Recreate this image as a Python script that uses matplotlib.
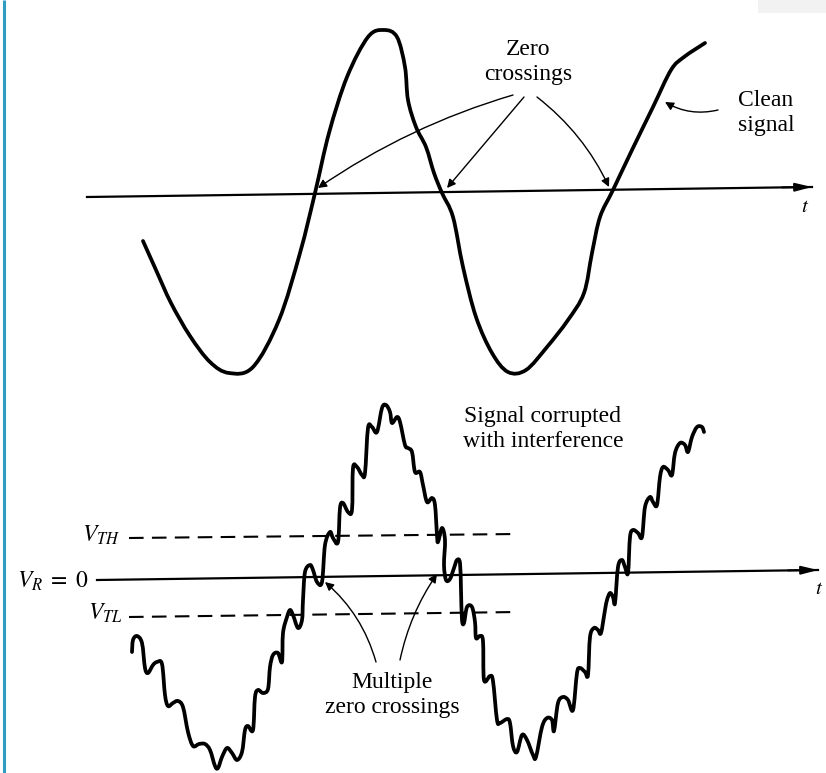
import matplotlib
matplotlib.use("Agg")
import matplotlib.pyplot as plt
from matplotlib.patches import FancyArrowPatch, Rectangle, PathPatch
from matplotlib.path import Path

plt.rcParams['font.family'] = ['Liberation Serif', 'DejaVu Serif']
plt.rcParams['mathtext.fontset'] = 'stix'

# ---- data (pixel-like coordinates, y downwards) ----
clean_x = [143, 156, 171, 190, 210, 229, 253, 279, 300, 315, 329, 347, 368, 384, 397, 405, 408, 416,
           426, 434, 442, 453, 463, 476, 492, 508, 526, 547, 568, 584, 592, 600, 613, 632,
           653, 671, 684, 705]
clean_y = [241, 270, 303, 336, 362, 373, 367, 320, 253, 193, 133, 77, 37, 30, 37, 67, 100, 127,
           147, 173, 193, 217, 267, 317, 353, 372, 370, 347, 320, 293, 253, 217, 190, 150,
           107, 70, 57, 43]

noisy_x = [132, 133, 137, 142, 145, 148, 153, 157, 162, 165, 168, 173, 178, 183, 188, 193,
           199, 205, 210, 215, 218, 222, 227, 232, 237, 242, 245, 248, 253, 255, 258, 263,
           268, 270, 273, 278, 282, 283, 287, 290, 293, 298, 302, 303, 305, 310, 313, 317,
           322, 325, 330, 333, 338, 340, 343, 348, 352, 353, 357, 362, 365, 368, 372, 377,
           382, 386, 390, 392, 397, 400, 405, 408, 412, 415, 420, 423, 427, 432, 435, 437,
           438, 442, 445, 444, 446, 450, 454, 457, 460, 461, 462, 464, 467, 472, 475, 476,
           480, 483, 484, 490, 493, 497, 500, 507, 510, 513, 517, 522, 527, 533, 536, 542,
           547, 552, 554, 558, 563, 568, 573, 577, 580, 585, 588, 590, 594, 598, 601, 605,
           607, 610, 613, 615, 618, 622, 625, 628, 630, 633, 638, 642, 645, 650, 653, 657,
           660, 663, 668, 672, 675, 680, 685, 688, 692, 697, 702, 704]
noisy_y = [652, 640, 636, 643, 668, 673, 665, 662, 664, 695, 706, 703, 701, 707, 732, 746,
           744, 744, 750, 766, 768, 757, 748, 753, 760, 752, 730, 726, 730, 697, 690, 693,
           689, 667, 655, 653, 662, 633, 617, 610, 615, 628, 620, 600, 572, 565, 570, 582,
           582, 545, 532, 538, 542, 508, 503, 512, 510, 468, 467, 475, 473, 428, 427, 432,
           408, 405, 412, 423, 417, 422, 445, 448, 452, 472, 472, 485, 502, 498, 505, 535,
           542, 528, 540, 565, 580, 579, 568, 560, 563, 590, 620, 623, 607, 607, 622, 638,
           636, 641, 680, 676, 681, 720, 723, 719, 723, 746, 752, 735, 740, 755, 757, 727,
           718, 720, 731, 703, 697, 700, 710, 673, 668, 672, 675, 637, 628, 630, 633, 610,
           600, 593, 597, 603, 567, 560, 567, 573, 537, 530, 533, 537, 507, 497, 502, 505,
           477, 467, 470, 475, 453, 443, 445, 452, 437, 427, 427, 432]

# axes (start, end) and threshold lines
top_axis_x = [87, 812]
top_axis_y = [197, 187]
bot_axis_x = [97, 818]
bot_axis_y = [580, 570]
vth_x = [129, 518]
vth_y = [538, 534]
vtl_x = [129, 518]
vtl_y = [617, 612]

# ---- figure ----
fig = plt.figure(figsize=(8.26, 7.73), dpi=100)
ax = fig.add_axes([0, 0, 1, 1])
ax.set_xlim(0, 826)
ax.set_ylim(773, 0)
ax.axis('off')

# left blue border and faint top-right patch
ax.plot([4, 4], [0, 773], color='#2f9cc4', lw=2.2, solid_capstyle='butt')
ax.add_patch(Rectangle((758, 0), 68, 13, color='#f2f2f2', lw=0))


def smooth_path(xs, ys):
    """Bezier path through the given points (Catmull-Rom style tangents)."""
    pts = list(zip(xs, ys))
    verts = [pts[0]]
    codes = [Path.MOVETO]
    n = len(pts)
    for i in range(n - 1):
        p0 = pts[i - 1] if i > 0 else pts[i]
        p1 = pts[i]
        p2 = pts[i + 1]
        p3 = pts[i + 2] if i + 2 < n else pts[i + 1]
        c1 = (p1[0] + (p2[0] - p0[0]) / 6.0, p1[1] + (p2[1] - p0[1]) / 6.0)
        c2 = (p2[0] - (p3[0] - p1[0]) / 6.0, p2[1] - (p3[1] - p1[1]) / 6.0)
        verts += [c1, c2, p2]
        codes += [Path.CURVE4] * 3
    return Path(verts, codes)


def axis_arrow(xs, ys):
    ax.plot(xs, ys, color='black', lw=1.6)
    ax.annotate('', xy=(xs[1], ys[1]), xytext=(xs[1] - 30, ys[1] + (ys[0] - ys[1]) * 30 / (xs[1] - xs[0])),
                arrowprops=dict(arrowstyle='-|>,head_length=1.0,head_width=0.25', color='black', lw=1.4,
                                shrinkA=0, shrinkB=0))


axis_arrow(top_axis_x, top_axis_y)
axis_arrow(bot_axis_x, bot_axis_y)

for xs, ys in ((clean_x, clean_y), (noisy_x, noisy_y)):
    ax.add_patch(PathPatch(smooth_path(xs, ys), facecolor='none', edgecolor='black', lw=2.7,
                           joinstyle='round', capstyle='round'))

ax.plot(vth_x, vth_y, color='black', lw=1.5, dashes=(7, 4))
ax.plot(vtl_x, vtl_y, color='black', lw=1.5, dashes=(7, 4))

# text
fs = 17
ax.text(805, 208, '$t$', fontsize=15, ha='center', va='center')
ax.text(819, 589, '$t$', fontsize=15, ha='center', va='center')
ax.text(528, 62, 'Zero\ncrossings', fontsize=fs, ha='center', va='center', linespacing=1.3)
ax.text(766, 113, 'Clean\nsignal', fontsize=fs, ha='center', va='center', linespacing=1.3)
ax.text(543, 429, 'Signal corrupted\nwith interference', fontsize=fs, ha='center', va='center',
        linespacing=1.25)
ax.text(392, 695, 'Multiple\nzero crossings', fontsize=fs, ha='center', va='center', linespacing=1.25)
ax.text(88, 581, r'$V_R\;=\;0$', fontsize=fs, ha='right', va='center')
ax.text(120, 535, '$V_{TH}$', fontsize=fs, ha='right', va='center')
ax.text(123, 613, '$V_{TL}$', fontsize=fs, ha='right', va='center')


def thin_arrow(p0, p1, rad):
    ax.add_patch(FancyArrowPatch(p0, p1, connectionstyle=f'arc3,rad={rad}',
                                 arrowstyle='-|>,head_length=5,head_width=2.5',
                                 color='black', lw=1.0, shrinkA=0, shrinkB=0))


thin_arrow((513, 95), (318, 188), 0.08)
thin_arrow((524, 97), (447, 188), 0.0)
thin_arrow((537, 97), (609, 187), -0.12)
thin_arrow((718, 110), (665, 102), -0.2)
thin_arrow((376, 662), (325, 582), 0.15)
thin_arrow((400, 660), (437, 574), -0.1)

fig.savefig('out.png', dpi=100)
